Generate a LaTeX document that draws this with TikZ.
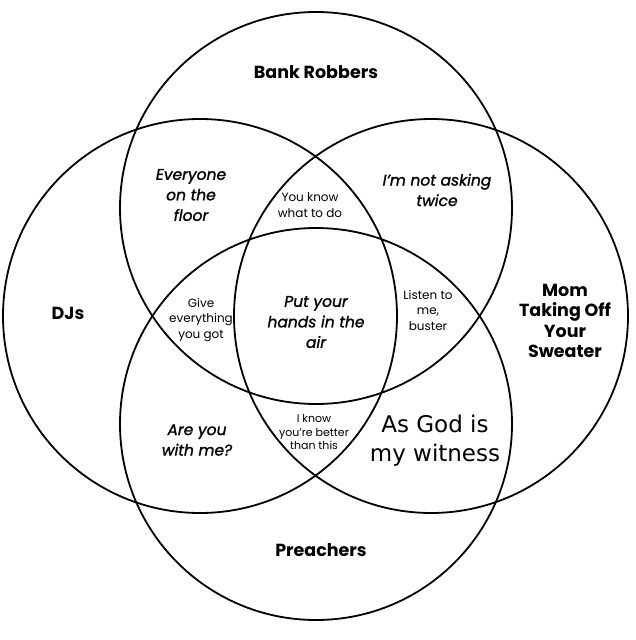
\documentclass[tikz,border=0pt]{standalone}
\usepackage{fontspec}
\setmainfont{Poppins}
\newfontfamily\medfont{Poppins}[FakeBold=1.3]
\newfontfamily\godfont{DejaVu Sans}
\begin{document}
\begin{tikzpicture}[x=1pt,y=-1pt,
  ring/.style={draw=black,line width=1.8pt},
  cat/.style={font=\fontsize{17.5}{20.5}\selectfont\bfseries,align=center,inner sep=0pt},
  phrase/.style={font=\fontsize{15.5}{20.5}\selectfont\medfont\itshape,align=center,inner sep=0pt},
  small/.style={font=\fontsize{12}{15.5}\selectfont,align=center,inner sep=0pt},
  tiny/.style={font=\fontsize{11}{13.5}\selectfont,align=center,inner sep=0pt},
  big/.style={font=\fontsize{23}{29}\selectfont\godfont,align=center,inner sep=0pt}]
\useasboundingbox (0,0) rectangle (635,640);
\fill[white] (0,0) rectangle (635,640);
\draw[ring] (316,208) circle[radius=196];
\draw[ring] (316,424) circle[radius=196];
\draw[ring] (200,316) circle[radius=197];
\draw[ring] (431,316) circle[radius=197];
\node[cat] (bank) at (316,72) {Bank Robbers};
\node[cat] (djs) at (68,313) {DJs};
\node[cat] (mom) at (565,321) {Mom\\Taking Off\\Your\\Sweater};
\node[cat] (preach) at (321,550) {Preachers};
\node[phrase] (floor) at (191,195) {Everyone\\on the\\floor};
\node[phrase] (twice) at (437,190) {I’m not asking\\twice};
\node[small] (know) at (310,205) {You know\\what to do};
\node[small] (give) at (201,320) {Give\\everything\\you got};
\node[phrase] (hands) at (316,322) {Put your\\hands in the\\air};
\node[small] (listen) at (428,310) {Listen to\\me,\\buster};
\node[phrase] (withme) at (197,440) {Are you\\with me?};
\node[tiny] (better) at (314,432) {I know\\you’re better\\than this};
\node[big] (god) at (435,441) {As God is\\my witness};
\end{tikzpicture}
\end{document}
